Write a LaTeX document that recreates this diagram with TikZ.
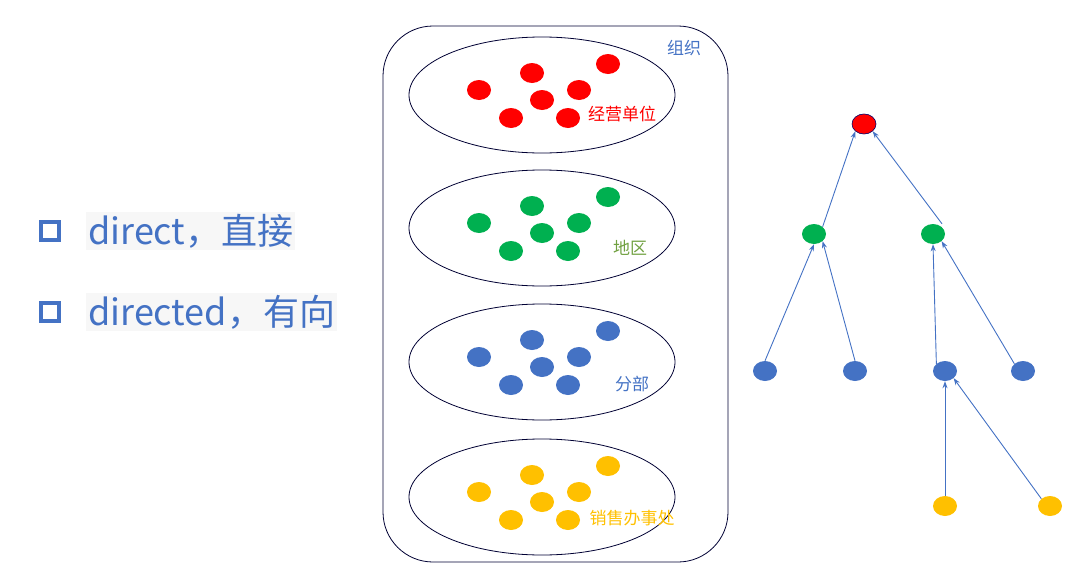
\documentclass[tikz,border=0pt]{standalone}
\usepackage{fontspec}
\setmainfont{Noto Sans CJK SC}
\usetikzlibrary{arrows.meta}
\definecolor{bl}{HTML}{4472C4}
\definecolor{rd}{HTML}{FF0000}
\definecolor{gr}{HTML}{00B050}
\definecolor{yl}{HTML}{FFC000}
\definecolor{ol}{HTML}{70A040}
\tikzset{
 dot/.style={ellipse,minimum width=24pt,minimum height=20pt,inner sep=0pt,fill=#1},
 grp/.style={draw=black!80!blue,line width=0.8pt},
 arr/.style={draw=bl,line width=0.9pt,-{Stealth[length=7pt,width=5pt]}},
 lab/.style={font=\fontsize{17}{17}\selectfont,text=#1},
 bul/.style={draw=bl,line width=4pt,minimum size=18pt,inner sep=0pt},
 big/.style={font=\fontsize{36}{36}\selectfont,text=bl,fill=black!3,anchor=west,inner sep=2pt}
}
\usetikzlibrary{shapes.geometric}
\begin{document}
\begin{tikzpicture}[x=1pt,y=-1pt]
\useasboundingbox (0,0) rectangle (1080,581);
% left
\node[bul] (b1) at (50,231) {};
\node[bul] (b2) at (50,312) {};
\node[big] (t1) at (86,231) {direct，直接};
\node[big] (t2) at (86,312) {directed，有向};
% container
\draw[grp,rounded corners=50pt] (383,26) rectangle (728,562);
\node[lab=bl] (org) at (684,48) {组织};
\foreach \cy/\c/\n in {95/rd/a,228/gr/b,362/bl/c,497/yl/d}{
 \draw[grp] (542,\cy) ellipse [x radius=133,y radius=58];
 \node[dot=\c] (\n1) at (532,\cy-22) {};
 \node[dot=\c] (\n2) at (608,\cy-31) {};
 \node[dot=\c] (\n3) at (479,\cy-5) {};
 \node[dot=\c] (\n4) at (579,\cy-5) {};
 \node[dot=\c] (\n5) at (542,\cy+5) {};
 \node[dot=\c] (\n6) at (511,\cy+23) {};
 \node[dot=\c] (\n7) at (568,\cy+23) {};
}
\node[lab=rd] (l1) at (622,114) {经营单位};
\node[lab=ol] (l2) at (630,248) {地区};
\node[lab=bl] (l3) at (632,384) {分部};
\node[lab=yl] (l4) at (632,518) {销售办事处};
% tree
\node[dot=rd,draw=black!60!blue,line width=0.6pt] (r) at (864,124) {};
\node[dot=gr] (g1) at (814,234) {};
\node[dot=gr] (g2) at (933,234) {};
\node[dot=bl] (p1) at (765,371) {};
\node[dot=bl] (p2) at (855,371) {};
\node[dot=bl] (p3) at (945,371) {};
\node[dot=bl] (p4) at (1023,371) {};
\node[dot=yl] (y1) at (945,506) {};
\node[dot=yl] (y2) at (1050,506) {};
\draw[arr] (g1.north east) -- (r.south west);
\draw[arr] ([xshift=9pt]g2.north) -- (r.south east);
\draw[arr] (p1.north) -- (g1.south);
\draw[arr] (p2.north) -- (g1.south east);
\draw[arr] (p3.north west) -- (g2.south);
\draw[arr] (p4.north west) -- (g2.south east);
\draw[arr] (y1.north) -- (p3.south);
\draw[arr] (y2.north west) -- (p3.south east);
\end{tikzpicture}
\end{document}
